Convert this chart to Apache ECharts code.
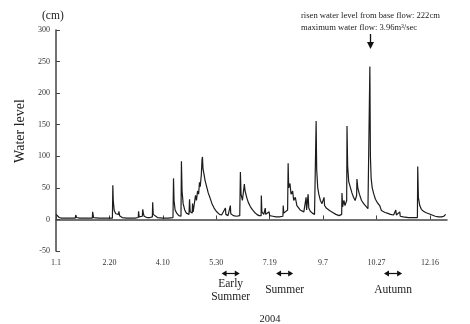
<!DOCTYPE html>
<html>
<head>
<meta charset="utf-8">
<script src="https://cdn.jsdelivr.net/npm/echarts@6/dist/echarts.min.js"></script>
<style>html,body{margin:0;padding:0;background:#fff}#c{width:470px;height:324px}</style>
</head>
<body>
<div id="c"></div>
<script>
// Day of year (0 = Jan 1, 2004) and water level (cm)
var days = [0,1,3,5,10,15,18,18.5,19.2,22,28,34,34.3,34.8,35.2,40,45,50,52.8,53.2,53.6,54.5,56,57.5,58.5,58.9,59.5,62,66,70,74,77,77.3,77.8,79,80.8,81.2,81.7,82.5,85,88,90.2,90.5,91,92.5,95,100,105,109.5,110,110.5,111.5,113,115,117,117.4,118,119,120.5,122,124.5,125,125.6,127.5,127.8,128.4,130,130.6,131.5,132.5,133.5,134.3,135,136,136.7,137.1,137.6,138.5,139.5,141,142.5,144,146,148,150,151.1,151.6,153,155,156.5,158.6,159,161,163.2,163.6,166,169,172,172.6,173.2,174.5,176.3,177,178.5,180,182,184,186,188,190,192,192.2,192.7,194.5,195.9,196.3,198,199.5,200,203,206,209,212.4,212.7,213.2,215,216.8,217.3,217.8,219,220,221.5,222.5,224,225.5,227,228.5,230,232,234.1,234.6,236,236.6,238,240,242,243.2,243.5,244,245,246,247.5,249,250.9,251.4,253,256,259,262,265,267.4,267.7,268.3,269.5,270.5,272.1,272.4,273,274,275.5,277,278.5,280,281.4,281.7,282.5,284,286,288,290,292,293.5,293.8,294.3,295,296,297.5,299,301,303,304.1,304.6,306,308,310,313,316,318.1,318.6,320,321.8,322.2,325,330,335,338.3,338.6,339.2,340.5,342,344,346,349,352,355,358,361,363,364.7];
var levels = [8,6,3,2,2,2,2,7,3,2,2,2,12,12,3,2,2,2,2,54,30,14,9,6,8,13,6,3,2,2,2,3,13,4,3,5,16,10,5,3,3,4,27,8,5,3,2,2,3,65,30,15,10,6,5,92,45,25,15,10,8,32,12,10,25,12,15,38,30,45,40,59,52,70,95,99,80,72,62,52,42,35,25,18,13,15,10,8,7,6,18,8,6,22,9,6,5,6,75,40,30,56,45,35,27,20,15,11,8,6,6,38,12,8,18,8,6,12,6,5,4,4,5,22,10,12,15,89,50,57,40,45,30,35,22,25,15,14,12,35,15,40,18,13,10,8,8,156,80,50,40,30,25,35,22,18,14,11,8,6,8,42,20,30,22,30,148,85,60,58,42,35,30,38,64,50,40,30,25,21,17,18,242,100,65,50,40,32,26,22,20,14,13,11,10,8,7,15,7,6,12,5,4,3,3,3,84,35,22,16,13,11,9,7,5,4,4,5,8];
var tickDays = [0,50,100,150,200,250,300,350];
var tickLabels = ['1.1','2.20','4.10','5.30','7.19','9.7','10.27','12.16'];
var seasons = [
  {name:'Early\nSummer', from:155, to:172},
  {name:'Summer', from:206, to:222},
  {name:'Autumn', from:307, to:324}
];
var peakDay = 293.8, peakLevel = 242;

var data = days.map(function(d,i){return [d, levels[i]];});
var serif = '"Liberation Serif","DejaVu Serif",serif';
var chart = echarts.init(document.getElementById('c'));
var option = {
  animation:false,
  backgroundColor:'#fff',
  grid:{left:56,right:23,top:30,bottom:73},
  xAxis:{
    type:'value',min:0,max:366,interval:50,
    axisLine:{lineStyle:{color:'#444',width:1.5}},
    axisTick:{inside:true,length:4,lineStyle:{color:'#444'}},
    splitLine:{show:false},
    axisLabel:{
      fontFamily:serif,fontSize:8,color:'#333',margin:8,
      showMaxLabel:false,
      formatter:function(v){var i=tickDays.indexOf(v);return i>=0?tickLabels[i]:'';}
    }
  },
  yAxis:{
    type:'value',min:-50,max:300,interval:50,
    axisLine:{show:true,lineStyle:{color:'#444',width:1.5}},
    axisTick:{show:true,inside:true,length:4,lineStyle:{color:'#444'}},
    splitLine:{show:false},
    axisLabel:{fontFamily:serif,fontSize:8,color:'#333',margin:6}
  },
  series:[{
    type:'line',data:data,showSymbol:false,sampling:null,
    lineStyle:{color:'#1c1c1c',width:1.2},
    z:3
  }]
};
chart.setOption(option);

// Annotations positioned from the axes
var g = [];
g.push({type:'text',left:42,top:10,style:{text:'(cm)',font:'11.5px '+serif,fill:'#222'}});
g.push({type:'text',x:20,y:131,rotation:Math.PI/2,style:{text:'Water level',font:'14px '+serif,fill:'#222',align:'center',verticalAlign:'middle'}});
g.push({type:'text',x:301,y:10,style:{text:'risen water level from base flow: 222cm\nmaximum water flow: 3.96m\u00b3/sec',font:'8.6px '+serif,fill:'#222',lineHeight:12}});
var pk = chart.convertToPixel({gridIndex:0},[peakDay,peakLevel]);
var ax = Math.round(pk[0])+0.5;
g.push({type:'line',shape:{x1:ax,y1:34,x2:ax,y2:44},style:{stroke:'#111',lineWidth:1.3}});
g.push({type:'polygon',shape:{points:[[ax-3.5,42],[ax+3.5,42],[ax,49]]},style:{fill:'#111'}});
var yb = chart.convertToPixel({gridIndex:0},[0,-50])[1];
seasons.forEach(function(s){
  var x1 = chart.convertToPixel({gridIndex:0},[s.from,0])[0];
  var x2 = chart.convertToPixel({gridIndex:0},[s.to,0])[0];
  var yy = yb+22.5;
  g.push({type:'line',shape:{x1:x1+3,y1:yy,x2:x2-3,y2:yy},style:{stroke:'#111',lineWidth:1.2}});
  g.push({type:'polygon',shape:{points:[[x1,yy],[x1+5,yy-3],[x1+5,yy+3]]},style:{fill:'#111'}});
  g.push({type:'polygon',shape:{points:[[x2,yy],[x2-5,yy-3],[x2-5,yy+3]]},style:{fill:'#111'}});
  var multi = s.name.indexOf('\n')>=0;
  g.push({type:'text',x:(x1+x2)/2,y:multi?yy+17:yy+16,style:{text:s.name,font:'11.5px '+serif,fill:'#222',align:'center',verticalAlign:'middle',lineHeight:13}});
});
g.push({type:'text',x:270,y:319,style:{text:'2004',font:'10.5px '+serif,fill:'#222',align:'center',verticalAlign:'middle'}});
chart.setOption({graphic:g});
</script>
</body>
</html>
